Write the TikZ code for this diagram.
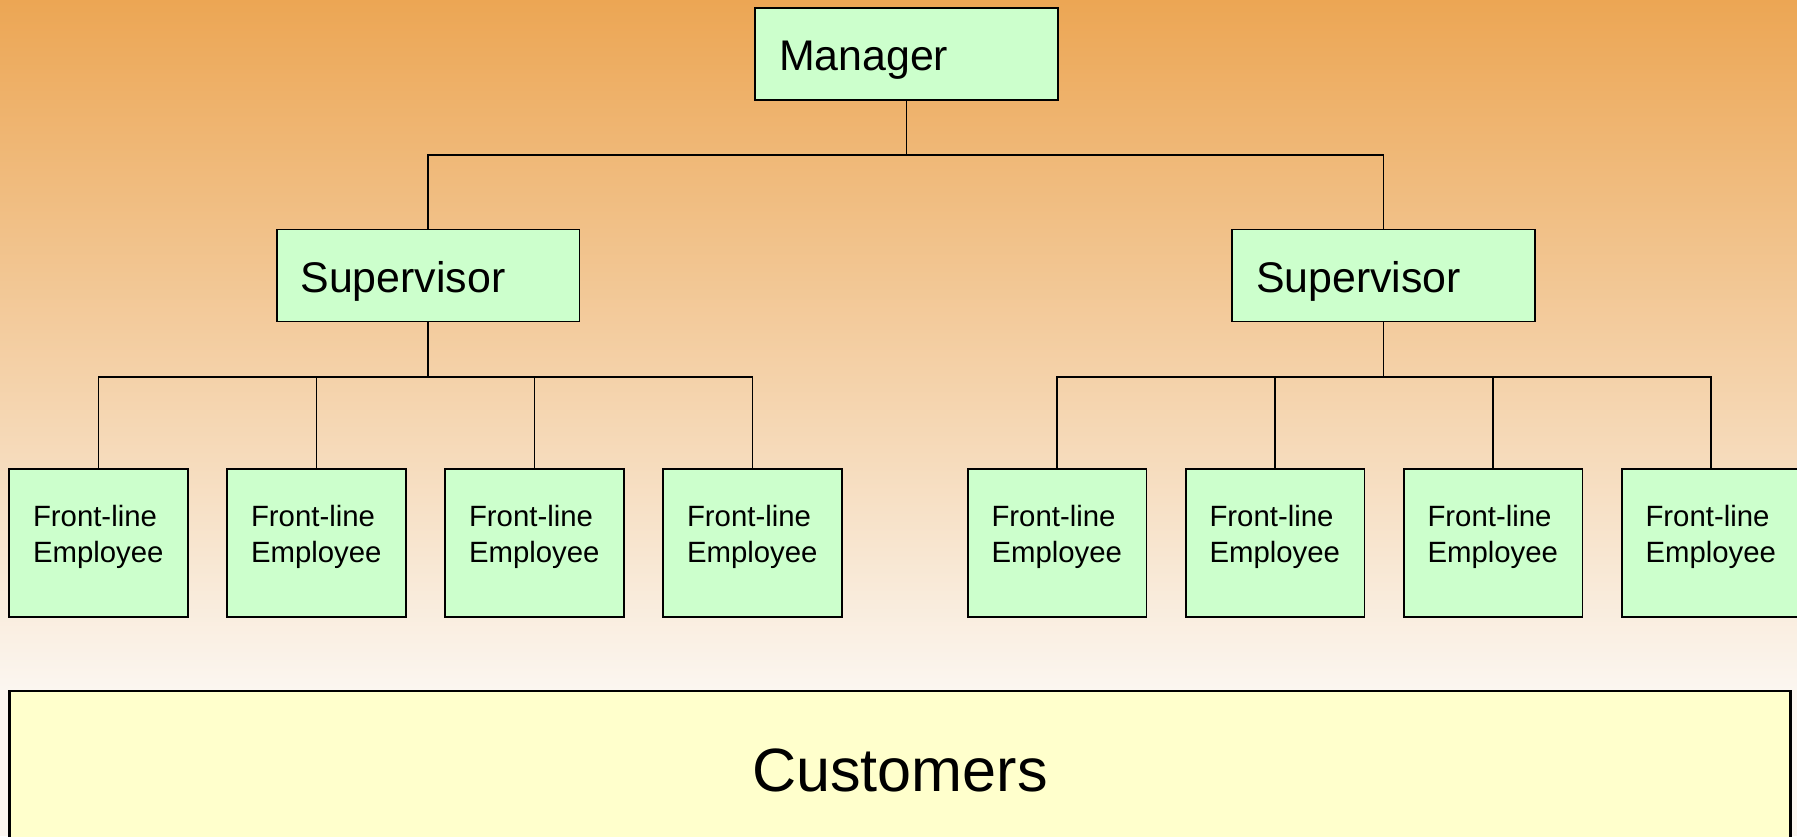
\documentclass[tikz,border=0pt]{standalone}
\usepackage{fontspec}
\setmainfont{Liberation Sans}
\definecolor{boxgreen}{RGB}{204,255,204}
\definecolor{boxyellow}{RGB}{255,255,204}
\definecolor{bgtop}{RGB}{236,166,84}
\definecolor{bgbottom}{RGB}{251,246,240}
\tikzset{
  orgbox/.style={draw=black, line width=1.1pt, fill=boxgreen, align=left,
    inner xsep=0.48cm, inner ysep=0pt},
  bossbox/.style={orgbox, text width=5.1cm, minimum height=1.84cm,
    text height=24pt, text depth=5.1pt,
    font=\fontsize{24.4}{28}\selectfont},
  staffbox/.style={orgbox, text width=2.62cm, minimum height=2.96cm,
    text depth=30.7pt,
    font=\fontsize{16.7}{20.4}\selectfont},
  custbox/.style={draw=black, line width=1.6pt, fill=boxyellow,
    minimum width=35.64cm, minimum height=3.18cm,
    font=\fontsize{34.8}{40}\selectfont},
  link/.style={line width=1.1pt}
}
\begin{document}
\begin{tikzpicture}[x=0.02cm, y=-0.02cm]
  \useasboundingbox (0,0) rectangle (1797,836);
  \clip (0,0) rectangle (1797,836);
  % background
  \shade[top color=bgtop, bottom color=bgbottom] (0,0) rectangle (1797,690);
  \fill[bgbottom] (0,689) rectangle (1797,836);

  % Manager
  \node[bossbox] (mgr) at (906.5,54) {Manager};
  \coordinate (mbus) at (906.5,155);

  % Supervisors
  \node[bossbox] (sup1) at (428,275.5) {Supervisor};
  \node[bossbox] (sup2) at (1383.5,275.5) {Supervisor};
  \draw[link] (mgr) -- (mbus);
  \draw[link] (sup1.north) |- (mbus) -| (sup2.north);

  % Front-line employees, left team
  \begin{scope}
    \coordinate (lbus) at (428,377);
    \draw[link] (sup1) -- (lbus);
    \foreach \i in {0,...,3} {
      \node[staffbox] (l\i) at (98.5+\i*218,543) {Front-line\\Employee};
      \draw[link] (lbus) -| (l\i.north);
    }
  \end{scope}

  % Front-line employees, right team
  \begin{scope}
    \coordinate (rbus) at (1383.5,377);
    \draw[link] (sup2) -- (rbus);
    \foreach \i in {0,...,3} {
      \node[staffbox] (r\i) at (1057+\i*218,543) {Front-line\\Employee};
      \draw[link] (rbus) -| (r\i.north);
    }
  \end{scope}

  % Customers
  \node[custbox] (cust) at (900,770.5) {Customers};
\end{tikzpicture}
\end{document}
